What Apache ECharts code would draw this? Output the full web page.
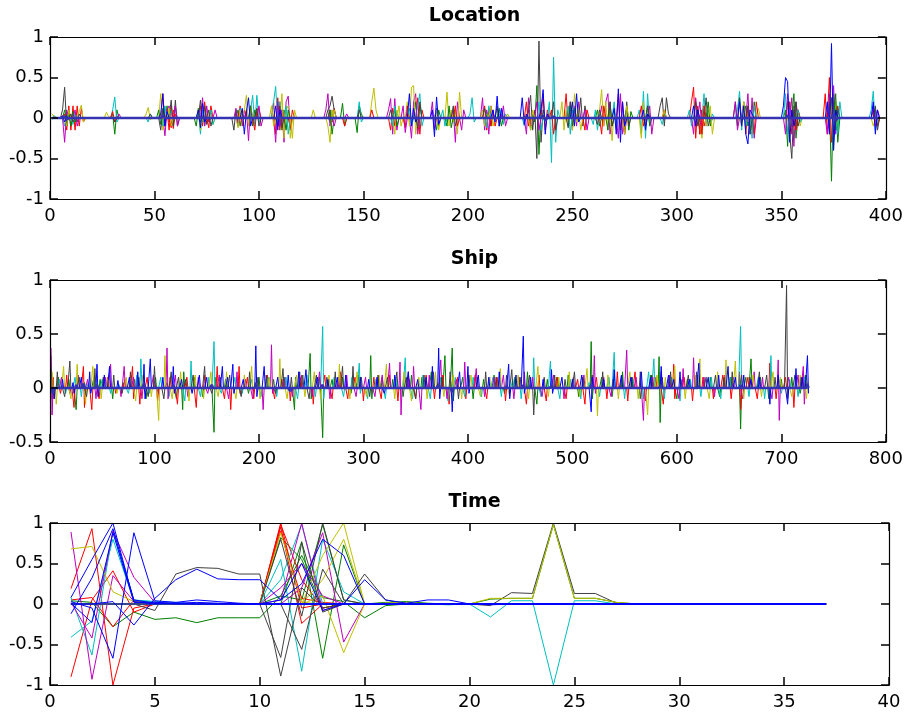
<!DOCTYPE html>
<html>
<head>
<meta charset="utf-8">
<script src="https://cdn.jsdelivr.net/npm/echarts@6/dist/echarts.min.js"></script>
<style>html,body{margin:0;padding:0;background:#fff;}#c{width:906px;height:715px;}</style>
</head>
<body>
<div id="c"></div>
<script>
// ---------- Titles / axes ----------
const titles = ['Location', 'Ship', 'Time'];
const xRanges = [[0, 400, 50], [0, 800, 100], [0, 40, 5]];
const yRanges = [[-1, 1, 0.5], [-0.5, 1, 0.5], [-1, 1, 0.5]];
// number of samples in each panel (lines end here)
const N_LOC = 397, N_SHIP = 726, N_TIME = 37;

// ---------- data: segments [startX, v(startX), v(startX+1), ...]; other samples sit at 0 ----------
// Location
const locG = [[1,0.05,0.02],[7,0.1,-0.05,0.08],[30,0.05,-0.2,0.1],[55,-0.1,0.15,-0.05],[90,0.1,-0.1,0.05],[110,0.2,-0.15,0.1],[140,0.18,-0.1],[147,-0.18,0.15,0.05],[175,0.2,-0.1,0.15],[185,-0.15,0.1],[210,0.1,-0.1,0.05],[229,0.1,-0.15,0.05,-0.05,0.4,-0.45,0.1],[262,0.1,-0.1],[276,0.12,-0.15,0.08],[310,0.1,-0.2,0.1],[333,0.15,-0.1],[352,0.1,-0.35,0.2,-0.1],[373,0.2,-0.78,0.3,0.05],[395,0.1,-0.1]];
const locG2 = [[9,0.05,-0.1,0.08,-0.05],[52,0.1,-0.08,0.12],[70,-0.1,0.12,-0.05],[96,0.15,-0.1,0.1],[113,-0.15,0.1],[134,0.1,-0.2],[165,0.12,-0.1],[190,-0.1,0.15,-0.12],[215,0.12,-0.1],[249,0.15,-0.1,0.12],[267,-0.15,0.2,-0.1],[286,0.15,-0.1],[315,0.2,-0.1],[336,-0.15,0.2],[356,0.3,-0.25],[376,0.3,-0.3]];
const locR = [[7,0.05,-0.15,0.15,-0.15,0.15,-0.15,0.15,-0.1,0.12,-0.05],[54,0.3,-0.1,0.1,-0.15,0.15,-0.13,0.05],[72,0.15,-0.1,0.2,-0.05],[91,0.15,-0.1,0.1],[107,0.2,-0.2,0.25,-0.15,0.1],[134,0.1,-0.05,0.12],[141,-0.1],[163,-0.15,0.12,-0.1],[176,0.25,-0.2,0.1],[208,0.15,-0.15,0.12,-0.1,0.1,-0.1],[236,0.3,-0.15,0.1],[247,0.3,-0.1,0.2,-0.15,0.1],[272,0.3,-0.15,0.2,-0.2],[307,0.2,0.38,-0.25,0.15,-0.2,0.1,-0.1],[332,0.2,-0.2,0.15],[354,0.2,-0.2,0.1,-0.15,0.1],[373,0.5,-0.3,0.2,-0.1,0.15],[394,0.1,-0.05]];
const locR2 = [[30,0.08,-0.05],[58,-0.12,0.1],[76,-0.12,0.15],[98,-0.15,0.1,0.12],[115,-0.12,0.1],[154,0.1],[170,-0.12,0.15],[194,0.15,-0.1],[228,0.2,-0.1],[240,0.1,-0.2],[256,-0.15,0.1],[264,-0.2,0.15],[283,0.15,-0.1],[294,0.1],[312,-0.2,0.15],[337,-0.2,0.2],[357,-0.15,0.1],[371,0.3,-0.2],[396,-0.1]];
const locC = [[1,-0.02,0.03],[7,-0.1,0.05],[30,0.1,0.26,-0.05],[47,-0.05,0.05],[58,0.1,-0.05,0.12],[71,0.1,-0.2,0.1,-0.1],[96,0.1,0.28,-0.1,0.28,-0.05],[107,0.2,0.39,-0.1,0.2],[134,-0.05,0.1],[148,0.2,-0.05],[176,0.15,0.3,-0.1],[201,0.05,0.25,-0.05],[216,0.1,-0.08,0.05],[227,-0.1,0.05],[239,0.2,-0.55,0.75,-0.3,0.1],[260,-0.08,0.1,-0.15,0.05],[282,0.1,-0.2,0.33,-0.25,0.3,-0.1],[293,-0.08,0.05],[313,0.3,-0.1,0.1,-0.05,0.05],[329,0.1,0.33,-0.15,0.2,-0.1],[352,0.3,-0.2,0.1],[374,0.25,-0.3,0.15],[393,0.1,0.33,-0.15]];
const locC2 = [[11,-0.08,0.05],[54,-0.1,0.15],[77,0.1,-0.08],[90,-0.1,0.12],[113,0.15,-0.2],[164,-0.1,0.15],[172,0.12,-0.1],[188,0.1,-0.1],[209,-0.12,0.15],[234,0.2,-0.15],[248,0.15,-0.2,0.1],[270,0.2,-0.15],[306,0.1,-0.1],[336,-0.25,0.15],[358,0.1,-0.05],[377,-0.2,0.2]];
const locM = [[7,-0.3,0.1],[55,-0.22,0.1,0.15,-0.1],[73,0.25,-0.1,0.15,-0.05],[94,0.1,-0.28,0.15],[108,-0.3,0.2,-0.1,0.1,-0.3,0.2,0.27,-0.15],[132,0.1,0.3,-0.1,0.05],[162,0.1,0.24,-0.2,0.24,-0.15],[173,-0.25,0.2,0.3,-0.2],[193,0.1,-0.3,0.2],[207,0.25,-0.15,0.1,-0.2,0.15],[228,-0.2,0.25,-0.1],[251,0.15,-0.1,0.2],[264,0.15,-0.1,0.2,0.3,-0.2],[311,0.2,-0.15,0.1],[334,0.3,-0.2,0.25,-0.25],[355,0.25,-0.35,0.2],[375,0.4,-0.2,0.1],[394,0.15,-0.1]];
const locM2 = [[12,0.1,-0.1],[33,0.05],[60,0.15,-0.1],[79,0.1],[89,0.12,-0.1],[100,0.15,-0.1],[136,-0.1],[142,0.05],[169,0.15,-0.18],[183,0.2,-0.15],[197,-0.15,0.1],[217,0.15,-0.1],[233,0.2,-0.15],[256,0.1,-0.15],[272,-0.25,0.3,-0.2],[287,0.15,-0.2],[308,-0.2,0.25],[328,0.2,-0.15],[352,-0.2,0.3],[372,-0.2,0.3],[396,0.1]];
const locY = [[1,0.05,0.02],[14,0.08,0.16,-0.05],[27,0.07,0.02],[46,0.05,0.13,-0.02],[53,0.3,-0.15,0.1],[77,0.12,-0.08],[93,0.1,0.28,-0.1,0.15],[111,0.3,-0.25,0.1,0.15,-0.25],[126,0.1],[133,-0.1,-0.3,0.1],[154,0.2,0.37,0.1],[165,-0.2,0.1],[171,0.2,-0.1,0.38,0.4,-0.2],[190,0.32,-0.1,0.1,-0.05,0.1,-0.2,0.32],[207,0.1,-0.1,0.05],[219,0.05],[245,0.2,-0.15,0.1,-0.1,0.15,-0.15,0.3,-0.05],[263,0.1,0.35,-0.1,0.2,-0.15,0.1,-0.28,0.1],[283,-0.25,0.2,-0.1],[312,-0.25,0.15,-0.1],[338,0.05,0.12],[358,0.1,-0.1],[376,0.2,-0.15]];
const locY2 = [[8,-0.1,0.1],[57,0.12,-0.1],[71,0.1,-0.15],[90,-0.12,0.1],[106,0.15,-0.1],[116,-0.25,0.1],[136,0.1],[167,0.15,-0.1],[185,0.1,-0.15],[211,0.15,-0.1],[230,-0.15,0.1],[253,0.1,-0.15],[275,-0.2,0.15],[294,0.1],[316,0.15,-0.2],[331,-0.1,0.2],[354,-0.15],[373,-0.1,0.15],[394,-0.1]];
const locK = [[6,0.1,0.38,-0.1,0.05],[13,-0.05,0.05],[58,0.22,-0.1,0.22,-0.1],[72,0.22,-0.05,0.15,-0.08],[88,-0.15,0.1,-0.05],[133,0.1,0.15,0.27,0.1],[185,0.12,-0.1],[214,0.15,-0.1,0.05],[229,0.1,0.28,-0.15,0.1,-0.5,0.95,-0.3,0.1],[254,0.25,-0.1,0.15],[262,-0.08,0.1],[275,-0.2,0.2,-0.1],[292,0.15,0.25,-0.1,0.25,0.05],[314,0.25,-0.1],[328,0.2,-0.1,0.25,-0.05],[353,0.2,-0.2,-0.5,0.15],[375,0.2,-0.15,0.1]];
const locK2 = [[10,0.05,-0.05],[31,-0.05],[48,0.05],[53,-0.15,0.1],[76,0.1,-0.1],[99,0.12,-0.1],[109,-0.1,0.15,-0.12],[148,0.1],[163,0.1],[176,-0.12,0.2],[193,0.15,-0.1],[208,0.12],[241,0.2,-0.15],[248,-0.12,0.2],[268,0.2,-0.1],[285,-0.1,0.15],[309,0.2,-0.1],[334,0.15,-0.2],[357,0.2,-0.1],[374,0.25,-0.2],[395,0.15,-0.15]];
const locB = [[6,0.03,-0.05,0.02],[53,0.05,0.3,-0.1,0.08],[71,0.1,-0.12,0.18,-0.05],[92,0.12,-0.2,0.08,0.25,-0.1],[108,0.15,-0.15,0.1],[172,0.3,-0.1,0.12,-0.05],[183,0.1,-0.23,0.26,-0.08],[212,0.1,-0.05,0.27,-0.1,0.12],[226,0.25,-0.08,0.05],[235,0.1,0.35,-0.2,0.05],[250,0.2,-0.1,0.3,-0.05],[270,0.12,-0.2,0.36,-0.3,0.2,-0.1],[284,0.1,-0.15,0.05],[308,0.15,-0.1,0.1],[330,0.2,-0.1,0.15,-0.2,-0.32,0.1,0.05],[351,0.15,0.5,0.45,-0.3,0.1,-0.1],[372,0.2,-0.2,0.92,-0.4,0.1],[394,0.2,-0.2,0.1]];
const locB0 = [[7,0.02,-0.02],[54,0.03],[110,0.02],[236,0.03,-0.03],[241,0.02],[353,0.03],[375,0.05,-0.03]];

// Ship
const shipG = [[1,0.3,-0.1],[8,0.1],[18,0.08],[25,-0.2],[33,0.05],[42,0.1],[48,0.08],[60,-0.1],[70,0.05],[81,0.08],[92,-0.1],[101,0.1],[112,0.05],[121,-0.1],[127,-0.2,0.15],[138,0.1],[146,-0.08],[157,-0.41,0.1],[168,0.08],[180,0.06],[190,-0.05],[200,0.1],[214,0.08],[225,0.1],[234,-0.2,0.1],[242,0.12],[249,0.32,-0.1],[258,0.1],[261,-0.46],[270,0.08],[280,0.1],[288,-0.05],[295,0.12],[307,0.3,-0.1],[318,0.1],[328,0.08],[338,-0.08],[346,0.12],[356,0.1],[365,0.15],[378,0.3],[385,0.37,-0.12],[395,0.1],[405,-0.1],[415,0.08],[425,0.12],[435,-0.05],[445,0.1],[457,0.15],[466,-0.15],[476,0.08],[486,0.1],[496,0.12],[506,-0.08],[518,0.43,-0.1],[528,0.1],[538,-0.08],[548,0.15],[557,0.1],[565,-0.1],[575,0.12],[583,0.29,-0.32],[593,0.1],[600,-0.1],[610,0.08],[620,0.12],[632,0.1],[641,-0.08],[651,0.1],[661,-0.38],[666,0.1],[671,0.27],[680,0.1],[688,-0.1],[700,0.08],[710,0.1],[718,-0.05],[723,0.12]];
const shipR = [[3,0.1,-0.1],[10,-0.05],[16,0.12],[23,-0.18],[32,0.2,-0.18],[40,-0.2],[47,-0.1],[55,0.1],[63,-0.05],[72,0.08],[79,0.2,-0.1],[86,-0.15],[93,0.1],[103,-0.12],[115,0.1],[122,-0.15],[131,0.1],[140,-0.18],[148,0.12],[160,0.2],[167,-0.1],[173,-0.2],[181,0.2,-0.05],[189,0.1],[195,-0.1],[208,0.12],[215,-0.1],[222,0.08],[230,-0.12],[240,0.1],[252,-0.15],[263,0.12],[270,-0.1],[278,0.15],[285,-0.1],[292,0.1],[300,-0.12],[310,0.1],[317,-0.1],[325,0.12],[333,-0.12],[343,0.15],[350,-0.1],[360,0.12],[368,-0.1],[376,0.12],[382,-0.15],[390,0.1],[398,-0.1],[407,0.12],[418,-0.1],[428,0.1],[436,-0.12],[449,0.1],[456,-0.15],[468,0.12],[475,-0.12],[485,0.1],[494,-0.1],[505,0.08],[512,-0.15],[523,0.1],[533,-0.1],[543,0.15],[553,-0.12],[560,0.15],[570,-0.12],[580,0.1],[587,-0.15],[597,0.22,-0.1],[607,0.1],[615,-0.12],[625,0.1],[635,-0.1],[644,0.12],[652,-0.1],[660,0.15,-0.2],[668,0.1],[677,-0.1],[689,0.23],[695,-0.1],[704,0.1],[712,-0.18],[720,0.1]];
const shipC = [[2,-0.05],[9,0.08],[15,-0.05],[24,0.1],[30,-0.08],[37,0.05],[50,0.08],[58,-0.05],[66,0.03],[75,-0.05],[83,0.12],[87,0.27],[95,-0.05],[106,0.1],[114,-0.08],[124,0.05],[129,-0.12],[135,0.25],[144,-0.08],[152,0.1],[157,0.43],[164,-0.05],[177,0.1],[184,-0.05],[193,0.08],[202,-0.08],[209,0.1],[217,-0.08],[226,0.1],[237,-0.1],[246,0.12],[254,-0.08],[261,0.57,-0.1],[272,0.1],[281,-0.08],[289,0.1],[296,0.23,-0.05],[304,-0.1],[312,0.08],[321,-0.1],[331,0.1],[340,0.28],[347,-0.1],[357,0.12],[364,-0.1],[374,0.1],[381,-0.12],[388,0.1],[397,-0.08],[405,0.1],[413,-0.08],[424,0.1],[432,-0.08],[443,0.08],[451,-0.1],[463,0.28],[470,-0.08],[479,0.25],[488,-0.1],[498,0.08],[508,-0.1],[516,0.05],[526,-0.08],[535,0.1],[540,0.33],[550,-0.1],[558,0.08],[568,-0.1],[573,0.15],[578,0.27],[588,-0.1],[595,0.1],[603,-0.12],[613,0.08],[623,-0.08],[633,0.1],[642,-0.1],[652,0.1],[661,0.57],[669,-0.08],[678,0.1],[684,-0.1],[690,0.3],[700,-0.05],[708,0.08],[716,-0.08],[722,0.1]];
const shipM = [[1,0.37,-0.25],[11,0.1],[19,-0.05],[27,0.12],[36,0.08],[44,-0.1],[53,0.1],[58,0.22],[68,-0.08],[71,0.2],[80,0.1],[88,-0.1],[99,0.12],[104,-0.05],[112,0.37,-0.1],[120,0.12],[132,-0.08],[142,0.1],[151,-0.05],[162,0.12],[171,-0.1],[179,0.15],[187,0.08],[194,-0.1],[204,-0.2],[212,0.4,-0.05],[224,0.1],[232,-0.08],[241,0.12],[251,-0.08],[258,0.15],[268,-0.1],[276,0.1],[284,0.12],[293,-0.08],[302,0.1],[311,-0.08],[318,0.12],[325,0.23],[335,0.24,-0.25],[344,0.08],[348,0.2],[355,-0.2],[363,0.12],[374,0.26],[380,-0.1],[389,0.08],[397,0.24],[408,0.18],[416,-0.08],[425,0.1],[434,0.12],[444,-0.1],[454,0.15],[462,0.1],[471,-0.08],[482,0.12],[492,-0.1],[501,0.1],[511,0.12],[521,0.3,-0.05],[530,0.1],[537,-0.08],[552,0.35],[561,0.1],[568,-0.3],[577,0.1],[585,0.15],[593,0.12],[602,-0.1],[606,0.18],[616,0.28],[626,0.1],[636,-0.08],[646,0.12],[654,0.1],[663,-0.1],[674,0.15],[682,0.1],[691,-0.1],[697,0.26,-0.3],[707,0.1],[716,0.12],[721,0.2,-0.15]];
const shipY = [[2,0.15],[6,-0.15],[13,0.2],[20,-0.1],[26,0.22],[34,-0.15],[41,0.2],[49,-0.1],[56,0.12],[64,-0.05],[73,0.1],[82,-0.12],[89,0.12],[97,-0.08],[104,-0.3],[110,0.3],[117,-0.1],[125,0.15],[133,-0.12],[139,0.12],[147,-0.1],[154,0.15],[161,-0.08],[169,0.15],[178,-0.1],[186,0.12],[193,0.2],[201,-0.1],[210,0.1],[220,0.27],[227,-0.1],[236,0.12],[244,-0.08],[253,0.15],[259,-0.1],[267,0.12],[277,0.22],[287,-0.1],[294,0.15],[303,-0.08],[315,0.12],[322,0.22],[330,-0.1],[339,0.15],[346,-0.12],[353,0.1],[361,-0.1],[369,0.15],[377,-0.08],[386,0.12],[394,-0.1],[403,0.12],[412,-0.08],[421,0.1],[431,0.18],[440,-0.08],[448,0.12],[458,-0.1],[467,0.2],[477,-0.08],[487,0.1],[497,0.15],[507,-0.08],[514,0.18],[524,-0.26],[534,0.12],[544,-0.1],[555,0.15],[563,-0.1],[572,-0.25],[581,0.12],[589,0.1],[598,0.2],[608,-0.1],[618,0.12],[622,0.27],[631,-0.1],[639,0.15],[647,0.26],[656,0.25],[664,-0.1],[673,0.12],[681,-0.08],[692,0.15],[699,0.1],[710,-0.08],[718,0.12],[724,-0.1]];
const shipK = [[1,0.2],[7,0.15],[14,-0.08],[19,0.25],[28,0.1],[35,-0.08],[43,0.18],[51,0.1],[61,0.12],[69,-0.05],[77,0.15],[85,0.1],[94,-0.08],[100,0.2],[109,-0.1],[116,0.15],[123,0.1],[130,0.08],[137,0.12],[148,0.2],[155,-0.05],[163,0.1],[172,0.12],[183,-0.08],[191,0.15],[199,0.1],[207,0.12],[216,-0.05],[223,0.18],[231,0.1],[239,0.15],[248,-0.1],[255,0.12],[265,0.1],[273,0.15],[280,0.2],[290,0.2],[298,0.1],[306,-0.08],[314,0.12],[323,0.1],[332,0.15],[341,0.1],[350,-0.1],[358,0.12],[367,0.15],[375,0.1],[383,0.15],[391,-0.1],[401,0.12],[409,0.1],[417,0.15],[427,0.1],[437,0.12],[442,0.17],[450,0.1],[459,0.12],[463,-0.25],[473,0.1],[483,0.12],[493,0.08],[502,0.15],[510,0.1],[519,0.12],[529,0.15],[539,0.08],[547,0.12],[557,0.1],[565,0.15],[576,0.12],[586,0.1],[594,0.15],[604,0.08],[611,0.12],[619,0.15],[628,0.1],[637,0.12],[645,0.1],[653,0.15],[662,0.12],[670,0.1],[679,0.15],[686,0.12],[694,0.1],[705,0.95,-0.1],[713,0.12],[719,0.1],[724,0.12]];
const shipB = [[4,-0.1],[12,0.08],[22,0.05,-0.05],[30,0.1],[38,0.15,-0.05],[45,0.22,-0.08],[52,0.12],[57,0.2],[65,0.07],[76,0.1],[84,0.15],[90,0.22,-0.1],[96,0.27],[108,0.1],[118,0.2,-0.05],[126,0.08],[136,-0.05],[143,0.12],[150,0.1],[165,0.2],[170,0.1],[175,0.22,-0.05],[185,0.08],[197,0.39,-0.08],[205,0.2],[218,0.1],[228,0.12],[238,0.15],[245,0.17],[256,0.1],[266,0.08],[275,0.1],[283,0.12],[297,0.1],[305,0.08],[313,0.1],[320,-0.05],[330,0.12],[343,0.15],[352,0.08],[360,0.1],[366,0.2],[372,0.37,-0.1],[385,-0.22],[392,0.15],[400,0.2,-0.05],[410,0.12],[420,0.1],[430,0.15],[439,0.22,-0.1],[446,0.12],[453,0.48,-0.05],[460,0.1],[472,0.08],[480,0.17,-0.05],[490,0.1],[500,0.08],[509,0.12],[518,-0.22,0.1],[530,0.08],[540,0.17],[547,0.12],[556,0.1],[566,0.15],[575,0.1],[585,0.2],[592,0.12],[597,0.08],[603,0.15],[612,0.08],[621,0.23],[630,0.1],[640,0.12],[649,0.2],[656,0.1],[664,0.12],[671,0.08],[679,0.1],[689,-0.15],[697,0.12],[706,-0.15],[714,0.18],[720,0.1],[725,0.3,-0.05]];
const shipB0 = [[3,-0.05],[25,0.03],[32,0.04],[45,0.03],[90,0.04],[118,0.03],[155,0.03],[197,0.05],[230,-0.03],[261,0.03],[372,0.04],[385,-0.04],[453,0.03],[480,0.02],[518,0.03],[585,0.03],[621,0.02],[661,0.03],[697,0.02],[725,0.04]];

// Time
const tG1 = [[1,0.04,0.02,-0.28,-0.1,-0.19,-0.17,-0.23,-0.17,-0.17,-0.17,0.1,0.6,0.08,0.03,-0.17,-0.02]];
const tG2 = [[10,0.0,0.82,0.55,-0.05,0.0]];
const tG3 = [[11,0.0,0.77,-0.67,0.73,0.0]];
const tG4 = [[11,0.1,0.05,0.98,0.05]];
const tG5 = [[16,0.02,0.03,0.01,0.0,0.0,0.06,0.07,0.07,0.98,0.07,0.07,0.02]];
const tR1 = [[1,0.19,0.93,-1.0,-0.05,0.0]];
const tR2 = [[1,-0.9,0.05,0.41,-0.1,0.0]];
const tR3 = [[1,0.05,0.08,-0.28,0.05]];
const tR4 = [[10,0.0,1.0,-0.05,0.0]];
const tR5 = [[10,0.0,0.98,0.3,-0.05]];
const tR6 = [[10,0.0,0.95,-0.24,0.0]];
const tR7 = [[10,0.0,0.9,0.07,0.02]];
const tC1 = [[1,-0.41,-0.21,0.8,0.04,0.03]];
const tC2 = [[1,0.08,-0.63,0.9,0.05,0.03,0.02]];
const tC3 = [[10,0.0,0.55,-0.83,0.8,0.15,0.0]];
const tC4 = [[10,0.0,0.3,0.98,0.0,0.0]];
const tC5 = [[19,-0.01,0.0,-0.16,0.04,0.04,-1.0,0.04,0.04,0.0]];
const tM1 = [[1,0.89,-0.93,0.35,0.03]];
const tM2 = [[1,0.02,-0.42,0.9,0.33,0.02]];
const tM3 = [[10,0.0,0.05,1.0,-0.08,0.0]];
const tM4 = [[11,0.0,0.2,0.88,-0.47,0.0]];
const tM5 = [[10,0.0,0.2,0.5,0.1,0.0]];
const tY1 = [[1,0.68,0.71,0.15,0.03,0.0]];
const tY2 = [[12,0.0,0.6,1.0,0.0]];
const tY3 = [[12,0.0,0.3,0.8,0.0]];
const tY4 = [[12,0.0,0.1,-0.6,0.0]];
const tY5 = [[10,0.0,0.88,0.02,0.0]];
const tY6 = [[16,0.01,0.02,0.0,0.0,0.0,0.07,0.07,0.07,0.98,0.07,0.07,0.02]];
const tK1 = [[4,0.0,-0.08,0.37,0.45,0.44,0.37,0.37,-0.89,0.2,-0.05,0.0]];
const tK2 = [[10,0.0,-0.66,0.76,-0.1,0.0]];
const tK3 = [[10,0.0,0.8,-0.15,1.0,0.05]];
const tK4 = [[11,0.0,-0.56,0.43,0.0,0.37,0.05]];
const tK5 = [[19,0.0,0.0,-0.02,0.14,0.13,1.0,0.13,0.13,0.01]];
const tB1 = [[1,0.08,0.55,1.0,0.03,0.0,0.01,0.02,0.01]];
const tB2 = [[1,-0.12,0.32,0.93,0.05,0.01]];
const tB3 = [[1,0.01,-0.23,0.88,0.02,0.02,0.01]];
const tB4 = [[1,0.03,-0.05,-0.67,0.88,0.04,0.02,0.05,0.03,0.01]];
const tB5 = [[1,0.0,0.0,0.03,-0.26,0.07,0.3,0.43,0.31,0.3,0.3,0.05,0.5,-0.08,0.0,0.3,0.05,0.01,0.05,0.05,0.0,-0.01]];
const tB6 = [[10,0.0,0.05,0.25,0.8,0.6,0.0]];

// ---------- styling ----------
const COL = { b: '#0000ff', g: '#008000', r: '#ff0000', c: '#00bfbf', m: '#bf00bf', y: '#bfbf00', k: '#404040', z: '#3434b2' };
const FONT = 'DejaVu Sans, Verdana, sans-serif';

function build(segs, n) {
  const d = new Array(n).fill(0);
  segs.forEach(s => { for (let i = 1; i < s.length; i++) d[s[0] + i - 2] = s[i]; });
  return d.map((v, i) => [i + 1, v]);
}

const panels = [
  { n: N_LOC, list: [[locG,'g'],[locR,'r'],[locC,'c'],[locM,'m'],[locY,'y'],[locK,'k'],[locG2,'g'],[locR2,'r'],[locC2,'c'],[locM2,'m'],[locY2,'y'],[locK2,'k'],[locB,'b'],[locB0,'z',2.5]] },
  { n: N_SHIP, list: [[shipG,'g'],[shipR,'r'],[shipC,'c'],[shipM,'m'],[shipY,'y'],[shipK,'k'],[shipB,'b'],[shipB0,'z',2.5]] },
  { n: N_TIME, list: [[tG1,'g'],[tG2,'g'],[tG3,'g'],[tG4,'g'],[tR1,'r'],[tR2,'r'],[tR3,'r'],[tR4,'r'],[tR5,'r'],[tR6,'r'],[tR7,'r'],
    [tC1,'c'],[tC2,'c'],[tC3,'c'],[tC4,'c'],[tC5,'c'],[tM1,'m'],[tM2,'m'],[tM3,'m'],[tM4,'m'],[tM5,'m'],
    [tY1,'y'],[tY2,'y'],[tY3,'y'],[tY4,'y'],[tY5,'y'],[tK1,'k'],[tK2,'k'],[tK3,'k'],[tK4,'k'],[tK5,'k'],[tG5,'g'],[tY6,'y'],
    [tB1,'b'],[tB2,'b'],[tB3,'b'],[tB4,'b'],[tB5,'b'],[tB6,'b']] }
];

const gridTops = [37, 280, 523];
const grids = [], xAxes = [], yAxes = [], series = [], titleOpts = [];
panels.forEach((p, g) => {
  grids.push({ left: 50, width: 839, top: gridTops[g], height: 162 });
  titleOpts.push({ text: titles[g], left: 469.5, textAlign: 'center', top: gridTops[g] - 35,
    textStyle: { fontFamily: FONT, fontWeight: 'bold', fontSize: 19, color: '#000' } });
  const [x0, x1, xi] = xRanges[g], [y0, y1, yi] = yRanges[g];
  const tick = { show: true, inside: true, length: 8, lineStyle: { color: '#000', width: 1.5 } };
  const line = { show: true, onZero: false, lineStyle: { color: '#000', width: 1.2 } };
  ['bottom', 'top'].forEach((pos, k) => xAxes.push({
    type: 'value', gridIndex: g, position: pos, min: x0, max: x1, interval: xi, zlevel: 1, z: 50,
    axisLine: line, axisTick: tick, splitLine: { show: false },
    axisLabel: { show: k === 0, inside: false, fontFamily: FONT, fontSize: 18, color: '#000', margin: 8 }
  }));
  ['left', 'right'].forEach((pos, k) => yAxes.push({
    type: 'value', gridIndex: g, position: pos, min: y0, max: y1, interval: yi, zlevel: 1, z: 50,
    axisLine: line, axisTick: tick, splitLine: { show: false },
    axisLabel: { show: k === 0, fontFamily: FONT, fontSize: 18, color: '#000', margin: 6 }
  }));
  p.list.forEach(([segs, c, w]) => series.push({
    type: 'line', xAxisIndex: 2 * g, yAxisIndex: 2 * g, data: build(segs, p.n),
    showSymbol: false, symbol: 'none',
    lineStyle: { color: COL[c], width: w || 1 }
  }));
});

const chart = echarts.init(document.getElementById('c'));
chart.setOption({ animation: false, backgroundColor: '#fff', title: titleOpts, grid: grids, xAxis: xAxes, yAxis: yAxes, series });
</script>
</body>
</html>
